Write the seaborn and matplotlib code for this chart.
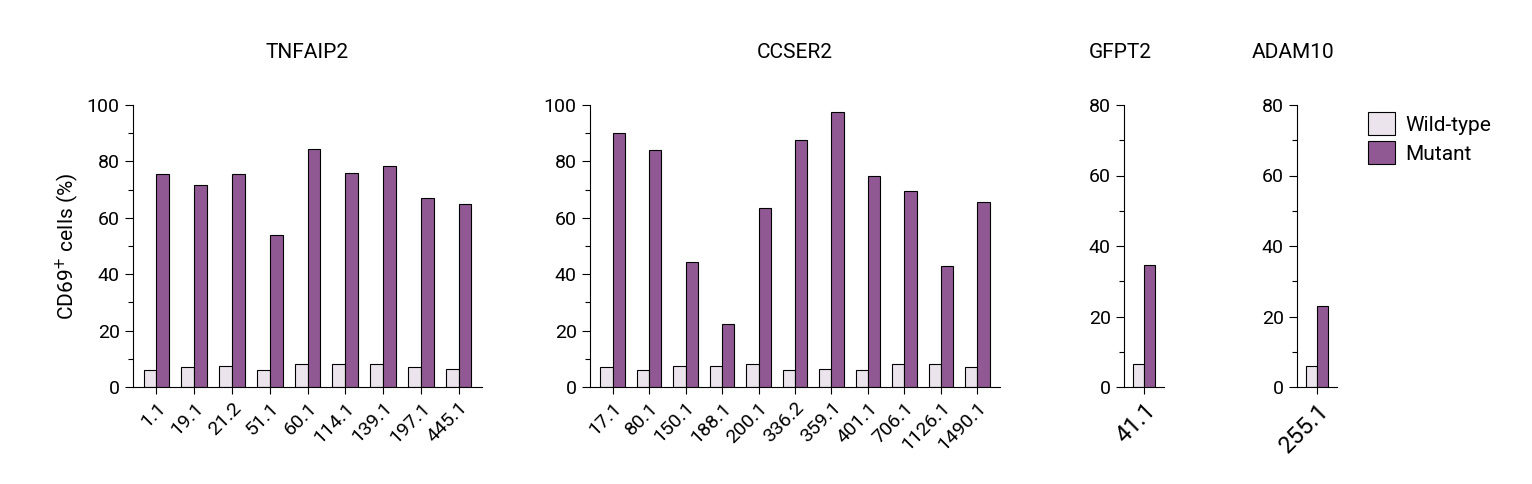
import pandas as pd
import matplotlib.pyplot as plt
import seaborn as sns

# values
tnf_labels = ["1.1", "19.1", "21.2", "51.1", "60.1", "114.1", "139.1", "197.1", "445.1"]
tnf_wt = [6, 7, 7.5, 6, 8, 8, 8, 7, 6.5]
tnf_mut = [75.5, 71.5, 75.5, 54, 84.5, 76, 78.5, 67, 65]

ccs_labels = ["17.1", "80.1", "150.1", "188.1", "200.1", "336.2", "359.1", "401.1", "706.1", "1126.1", "1490.1"]
ccs_wt = [7, 6, 7.5, 7.5, 8, 6, 6.5, 6, 8, 8, 7]
ccs_mut = [90, 84, 44.5, 22.5, 63.5, 87.5, 97.5, 75, 69.5, 43, 65.5]

gfp_labels = ["41.1"]
gfp_wt = [6.5]
gfp_mut = [34.5]

adam_labels = ["255.1"]
adam_wt = [6]
adam_mut = [23]

plt.rcParams["font.family"] = "Roboto"
palette = {"Wild-type": "#ece3ee", "Mutant": "#9a4f9e"}

W, H = 1532, 484
panels = [
    ("TNFAIP2", tnf_labels, tnf_wt, tnf_mut, (133, 349), 100, 14),
    ("CCSER2", ccs_labels, ccs_wt, ccs_mut, (590, 410), 100, 14),
    ("GFPT2", gfp_labels, gfp_wt, gfp_mut, (1124, 40), 80, 17),
    ("ADAM10", adam_labels, adam_wt, adam_mut, (1297, 40), 80, 17),
]

fig = plt.figure(figsize=(W / 100, H / 100), dpi=100)
for i, (title, labels, wt, mut, (x0, w), ymax, xfs) in enumerate(panels):
    ax = fig.add_axes([x0 / W, 97 / H, w / W, 282 / H])
    df = pd.DataFrame({
        "clone": labels * 2,
        "value": wt + mut,
        "genotype": ["Wild-type"] * len(labels) + ["Mutant"] * len(labels),
    })
    sns.barplot(data=df, x="clone", y="value", hue="genotype", palette=palette,
                edgecolor="black", linewidth=0.8, width=0.68, ax=ax, legend=(i == 3))
    n = len(labels)
    ax.set_xlim(-0.62, n - 0.38)
    ax.set_ylim(0, ymax)
    ax.set_yticks(range(0, ymax + 1, 20))
    ax.set_yticks(range(10, ymax, 20), minor=True)
    ax.tick_params(axis="y", labelsize=14, length=6, width=0.8)
    ax.tick_params(axis="y", which="minor", length=3.5, width=0.8)
    ax.tick_params(axis="x", labelsize=xfs, length=5, width=0.8)
    plt.setp(ax.get_xticklabels(), rotation=45, ha="right", rotation_mode="anchor")
    ax.set_xlabel("")
    ax.set_ylabel("CD69$^{+}$ cells (%)" if i == 0 else "", fontsize=15)
    ax.set_title(title, fontsize=15, pad=34, x=0.5 if i < 2 else -0.1)
    sns.despine(ax=ax)
    for s in ("left", "bottom"):
        ax.spines[s].set_linewidth(0.8)
    if i == 3:
        ax.legend(loc="upper left", bbox_to_anchor=(1.3, 1.04), frameon=False,
                  fontsize=15, handlelength=1.3, handleheight=1.3, labelspacing=0.3,
                  handletextpad=0.5)

fig.savefig("out.png", dpi=100)
